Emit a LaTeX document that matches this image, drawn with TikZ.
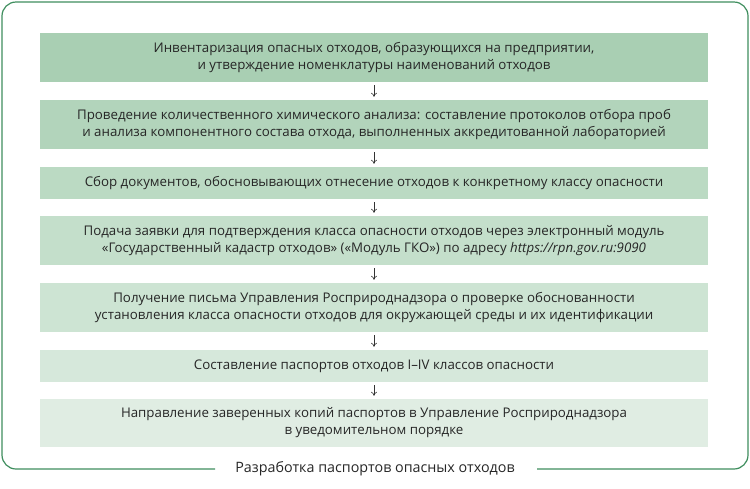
\documentclass[tikz,border=0pt]{standalone}
\usepackage{fontspec}
\setmainfont{Open Sans}
\usetikzlibrary{arrows.meta}
\begin{document}
\begin{tikzpicture}[x=1pt,y=-1pt,
  stepbox/.style={minimum width=668pt,inner sep=0pt,align=center,font=\fontsize{13.3}{17}\selectfont,text=black!85},
  arr/.style={-{To[length=4pt,width=6pt]},black!80,line width=0.6pt}]
\useasboundingbox (0,0) rectangle (750,488);
\definecolor{c1}{HTML}{A9CFB3}\definecolor{c2}{HTML}{B2D4BB}\definecolor{c3}{HTML}{BBDAC3}
\definecolor{c4}{HTML}{C4DFCB}\definecolor{c5}{HTML}{CDE4D3}\definecolor{c6}{HTML}{D6E8DB}
\definecolor{c7}{HTML}{E0EDE3}\definecolor{bord}{HTML}{3F8E5E}
\draw[bord,line width=1.2pt,rounded corners=14pt] (215,469) -- (2,469) -- (2,2) -- (748,2) -- (748,469) -- (537,469);
\node[font=\fontsize{14.3}{16}\selectfont,text=black!85] (cap) at (375,469) {Разработка паспортов опасных отходов};
\node[stepbox,fill=c1,minimum height=49pt] (b1) at (374,57.5) {Инвентаризация опасных отходов, образующихся на предприятии,\\и утверждение номенклатуры наименований отходов};
\node[stepbox,fill=c2,minimum height=49pt] (b2) at (374,124.5) {Проведение количественного химического анализа: составление протоколов отбора проб\\и анализа компонентного состава отхода, выполненных аккредитованной лабораторией};
\node[stepbox,fill=c3,minimum height=32pt] (b3) at (374,183) {Сбор документов, обосновывающих отнесение отходов к конкретному классу опасности};
\node[stepbox,fill=c4,minimum height=49pt] (b4) at (374,240.5) {Подача заявки для подтверждения класса опасности отходов через электронный модуль\\«Государственный кадастр отходов» («Модуль ГКО») по адресу \textit{https://rpn.gov.ru:9090}};
\node[stepbox,fill=c5,minimum height=49pt] (b5) at (374,307.5) {Получение письма Управления Росприроднадзора о проверке обоснованности\\установления класса опасности отходов для окружающей среды и их идентификации};
\node[stepbox,fill=c6,minimum height=32pt] (b6) at (374,366) {Составление паспортов отходов I–IV классов опасности};
\node[stepbox,fill=c7,minimum height=48pt] (b7) at (374,423) {Направление заверенных копий паспортов в Управление Росприроднадзора\\в уведомительном порядке};
\foreach \a/\b in {b1/b2,b2/b3,b3/b4,b4/b5,b5/b6,b6/b7}
  \draw[arr] ([yshift=-3pt]\a.south) -- ([yshift=3pt]\b.north);
\end{tikzpicture}
\end{document}
